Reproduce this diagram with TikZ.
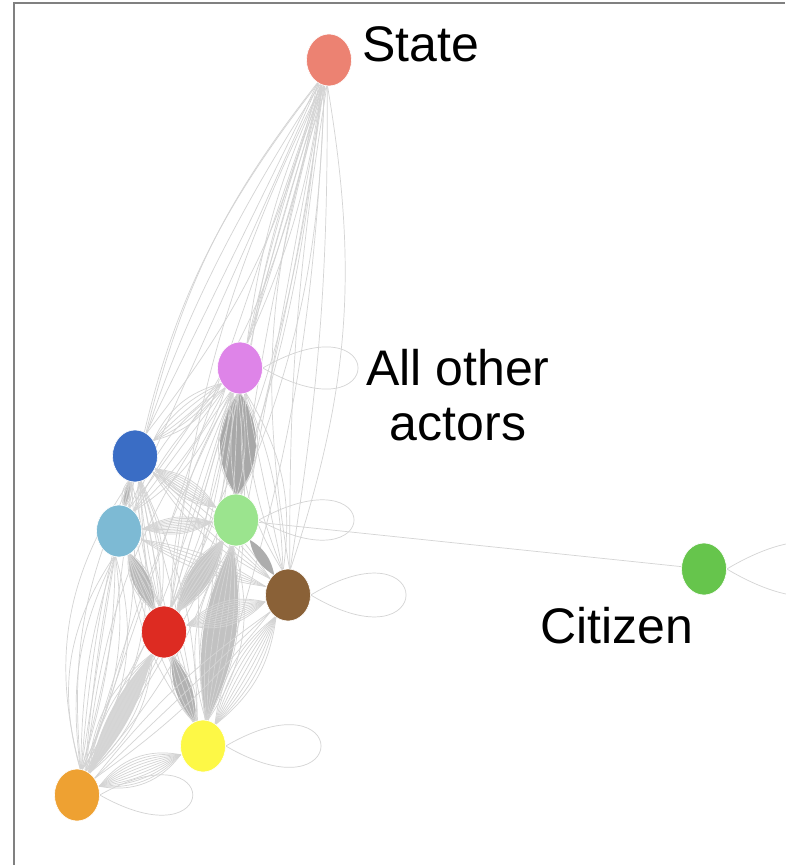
\documentclass[tikz,border=0pt]{standalone}
\usepackage{fontspec}
\setmainfont{Liberation Sans}
\usetikzlibrary{shapes.geometric,calc,backgrounds}
\definecolor{cState}{HTML}{EC8272}
\definecolor{cPink}{HTML}{DE84E8}
\definecolor{cBlue}{HTML}{3A6DC5}
\definecolor{cLBlue}{HTML}{7DBAD4}
\definecolor{cLGreen}{HTML}{9BE48E}
\definecolor{cBrown}{HTML}{8A6137}
\definecolor{cRed}{HTML}{DD2B22}
\definecolor{cYellow}{HTML}{FDF846}
\definecolor{cOrange}{HTML}{EEA132}
\definecolor{cCitizen}{HTML}{66C54C}
\tikzset{
  actor/.style={ellipse, minimum width=22.5pt, minimum height=26pt, inner sep=0pt, draw=white, line width=0.3pt},
  edge/.style={draw=black!17, line width=0.35pt},
  frameline/.style={draw=black!50, line width=1pt},
  lbl/.style={font=\fontsize{25}{30}\selectfont, inner sep=0pt},
}
\newcommand{\bund}[5]{%
  \foreach \k in {0,...,#4}{%
    \pgfmathsetmacro{\bb}{-#3+2*#3*\k/#4}%
    \draw[#5] ($(#1.center)!12pt!(#2.center)$) to[bend left=\bb] ($(#2.center)!12pt!(#1.center)$);}}
\newcommand{\lens}[4]{%
  \fill[black!#4] ($(#1.center)!12pt!(#2.center)$) to[bend left=#3] ($(#2.center)!12pt!(#1.center)$)
    to[bend left=#3] ($(#1.center)!12pt!(#2.center)$);}
\newcommand{\selfloop}[3]{%
  \draw[edge] (#1.east) .. controls +(#2,-#3) and +(#2,#3) .. (#1.east);}
\begin{document}
\begin{tikzpicture}[x=0.5pt,y=-0.5pt]
\useasboundingbox (0,0) rectangle (785,865);
% nodes
\node[actor, fill=cState]   (state)   at (329,60)  {};
\node[actor, fill=cPink]    (pink)    at (240,368) {};
\node[actor, fill=cBlue]    (blue)    at (135,456) {};
\node[actor, fill=cLBlue]   (lblue)   at (119,531) {};
\node[actor, fill=cLGreen]  (lgreen)  at (236,520) {};
\node[actor, fill=cBrown]   (brown)   at (288,595) {};
\node[actor, fill=cRed]     (red)     at (164,632) {};
\node[actor, fill=cYellow]  (yellow)  at (203,746) {};
\node[actor, fill=cOrange]  (orange)  at (77,795)  {};
\node[actor, fill=cCitizen] (citizen) at (704,569) {};
% edges
\begin{scope}[on background layer]
\fill[white] (0,0) rectangle (785,865);
% state
\bund{state}{pink}{8}{3}{edge}
\bund{state}{blue}{12}{2}{edge}
\bund{state}{lblue}{14}{2}{edge}
\bund{state}{lgreen}{10}{3}{edge}
\bund{state}{brown}{14}{3}{edge}
\bund{state}{red}{10}{2}{edge}
\bund{state}{yellow}{8}{2}{edge}
\bund{state}{orange}{14}{2}{edge}
% pink
\lens{pink}{lgreen}{36}{34}
\bund{pink}{lgreen}{40}{3}{edge}
\bund{pink}{blue}{25}{5}{edge}
\bund{pink}{lblue}{20}{4}{edge}
\bund{pink}{red}{15}{4}{edge}
\bund{pink}{brown}{20}{4}{edge}
\bund{pink}{yellow}{12}{3}{edge}
\bund{pink}{orange}{15}{3}{edge}
% blue
\lens{blue}{lblue}{20}{30}
\bund{blue}{lblue}{34}{4}{edge}
\bund{blue}{lgreen}{26}{8}{edge}
\bund{blue}{red}{18}{5}{edge}
\bund{blue}{brown}{15}{4}{edge}
\bund{blue}{yellow}{12}{3}{edge}
\bund{blue}{orange}{25}{5}{edge}
% light blue
\bund{lblue}{lgreen}{24}{10}{edge}
\lens{lblue}{red}{26}{28}
\bund{lblue}{red}{32}{4}{edge}
\bund{lblue}{brown}{12}{4}{edge}
\bund{lblue}{yellow}{15}{4}{edge}
\bund{lblue}{orange}{25}{6}{edge}
% light green
\lens{lgreen}{red}{26}{22}
\bund{lgreen}{red}{30}{8}{edge}
\lens{lgreen}{brown}{24}{32}
\lens{lgreen}{yellow}{18}{24}
\bund{lgreen}{yellow}{26}{8}{edge}
\bund{lgreen}{orange}{12}{3}{edge}
\draw[edge] (lgreen) -- (citizen);
% red, brown, yellow, orange
\bund{red}{brown}{30}{10}{edge}
\lens{red}{yellow}{22}{30}
\bund{red}{yellow}{28}{4}{edge}
\lens{red}{orange}{14}{16}
\bund{red}{orange}{24}{8}{edge}
\bund{brown}{yellow}{22}{8}{edge}
\bund{brown}{orange}{8}{2}{edge}
\bund{yellow}{orange}{32}{10}{edge}
% self loops
\selfloop{pink}{127}{73}
\selfloop{lgreen}{127}{70}
\selfloop{brown}{127}{76}
\selfloop{yellow}{127}{74}
\selfloop{orange}{124}{70}
\selfloop{citizen}{160}{95}
\end{scope}
% frame
\draw[frameline] (14,865) -- (14,3) -- (785,3);
% labels
\node[lbl, anchor=base west] (lstate) at (362,62) {State};
\node[lbl, anchor=base] (lall) at (458,385) {All other};
\node[lbl, anchor=base] (lactors) at (458,440) {actors};
\node[lbl, anchor=base west] (lcitizen) at (540,643) {Citizen};
\end{tikzpicture}
\end{document}
